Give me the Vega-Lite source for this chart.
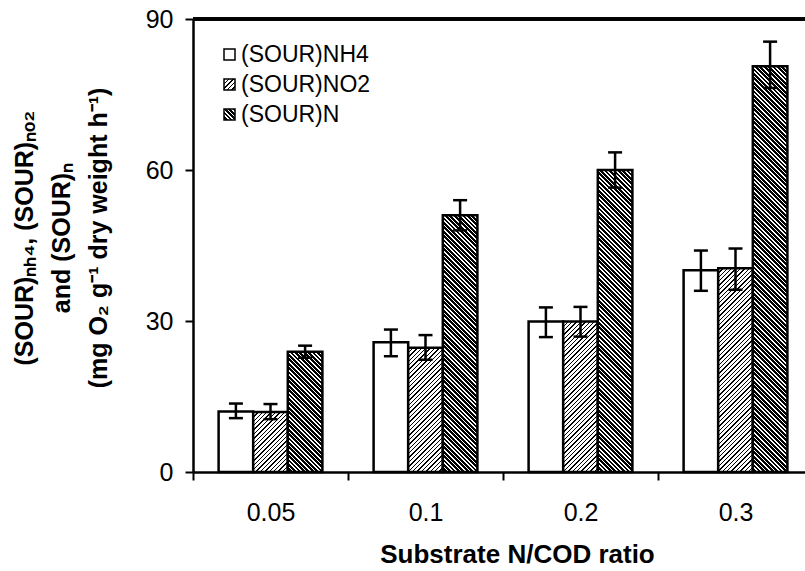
{
  "$schema": "https://vega.github.io/schema/vega-lite/v6.json",
  "autosize": {"type": "none"},
  "padding": {"left": 193, "top": 19, "right": 0, "bottom": 99},
  "width": 620,
  "height": 453,
  "background": "white",
  "config": {
    "font": "Liberation Sans",
    "view": {"stroke": null},
    "axis": {"domainColor": "black", "tickColor": "black", "labelColor": "black", "titleColor": "black", "grid": false}
  },
  "params": [
    {"name": "cb", "value": "#000000"},
    {"name": "cw", "value": "#ffffff"},
    {"name": "pA", "expr": "[{offset:0,color:cb},{offset:.0032,color:cb},{offset:.0032,color:cw},{offset:.01,color:cw},{offset:.01,color:cb},{offset:.0132,color:cb},{offset:.0132,color:cw},{offset:.02,color:cw},{offset:.02,color:cb},{offset:.0232,color:cb},{offset:.0232,color:cw},{offset:.03,color:cw},{offset:.03,color:cb},{offset:.0332,color:cb},{offset:.0332,color:cw},{offset:.04,color:cw},{offset:.04,color:cb},{offset:.0432,color:cb},{offset:.0432,color:cw},{offset:.05,color:cw},{offset:.05,color:cb},{offset:.0532,color:cb},{offset:.0532,color:cw},{offset:.06,color:cw},{offset:.06,color:cb},{offset:.0632,color:cb},{offset:.0632,color:cw},{offset:.07,color:cw},{offset:.07,color:cb},{offset:.0732,color:cb},{offset:.0732,color:cw},{offset:.08,color:cw},{offset:.08,color:cb},{offset:.0832,color:cb},{offset:.0832,color:cw},{offset:.09,color:cw},{offset:.09,color:cb},{offset:.0932,color:cb},{offset:.0932,color:cw},{offset:.1,color:cw},{offset:.1,color:cb},{offset:.1032,color:cb},{offset:.1032,color:cw},{offset:.11,color:cw},{offset:.11,color:cb},{offset:.1132,color:cb},{offset:.1132,color:cw},{offset:.12,color:cw},{offset:.12,color:cb},{offset:.1232,color:cb},{offset:.1232,color:cw},{offset:.13,color:cw},{offset:.13,color:cb},{offset:.1332,color:cb},{offset:.1332,color:cw},{offset:.14,color:cw},{offset:.14,color:cb},{offset:.1432,color:cb},{offset:.1432,color:cw},{offset:.15,color:cw},{offset:.15,color:cb},{offset:.1532,color:cb},{offset:.1532,color:cw},{offset:.16,color:cw},{offset:.16,color:cb},{offset:.1632,color:cb},{offset:.1632,color:cw},{offset:.17,color:cw},{offset:.17,color:cb},{offset:.1732,color:cb},{offset:.1732,color:cw},{offset:.18,color:cw},{offset:.18,color:cb},{offset:.1832,color:cb},{offset:.1832,color:cw},{offset:.19,color:cw},{offset:.19,color:cb},{offset:.1932,color:cb},{offset:.1932,color:cw},{offset:.2,color:cw},{offset:.2,color:cb},{offset:.2032,color:cb},{offset:.2032,color:cw},{offset:.21,color:cw},{offset:.21,color:cb},{offset:.2132,color:cb},{offset:.2132,color:cw},{offset:.22,color:cw},{offset:.22,color:cb},{offset:.2232,color:cb},{offset:.2232,color:cw},{offset:.23,color:cw},{offset:.23,color:cb},{offset:.2332,color:cb},{offset:.2332,color:cw},{offset:.24,color:cw},{offset:.24,color:cb},{offset:.2432,color:cb},{offset:.2432,color:cw},{offset:.25,color:cw},{offset:.25,color:cb},{offset:.2532,color:cb},{offset:.2532,color:cw},{offset:.26,color:cw},{offset:.26,color:cb},{offset:.2632,color:cb},{offset:.2632,color:cw},{offset:.27,color:cw},{offset:.27,color:cb},{offset:.2732,color:cb},{offset:.2732,color:cw},{offset:.28,color:cw},{offset:.28,color:cb},{offset:.2832,color:cb},{offset:.2832,color:cw},{offset:.29,color:cw},{offset:.29,color:cb},{offset:.2932,color:cb},{offset:.2932,color:cw},{offset:.3,color:cw},{offset:.3,color:cb},{offset:.3032,color:cb},{offset:.3032,color:cw},{offset:.31,color:cw},{offset:.31,color:cb},{offset:.3132,color:cb},{offset:.3132,color:cw},{offset:.32,color:cw},{offset:.32,color:cb},{offset:.3232,color:cb},{offset:.3232,color:cw},{offset:.33,color:cw},{offset:.33,color:cb},{offset:.3332,color:cb},{offset:.3332,color:cw},{offset:.34,color:cw},{offset:.34,color:cb},{offset:.3432,color:cb},{offset:.3432,color:cw},{offset:.35,color:cw},{offset:.35,color:cb},{offset:.3532,color:cb},{offset:.3532,color:cw},{offset:.36,color:cw},{offset:.36,color:cb},{offset:.3632,color:cb},{offset:.3632,color:cw},{offset:.37,color:cw},{offset:.37,color:cb},{offset:.3732,color:cb},{offset:.3732,color:cw},{offset:.38,color:cw},{offset:.38,color:cb},{offset:.3832,color:cb},{offset:.3832,color:cw},{offset:.39,color:cw},{offset:.39,color:cb},{offset:.3932,color:cb},{offset:.3932,color:cw},{offset:.4,color:cw},{offset:.4,color:cb},{offset:.4032,color:cb},{offset:.4032,color:cw},{offset:.41,color:cw},{offset:.41,color:cb},{offset:.4132,color:cb},{offset:.4132,color:cw},{offset:.42,color:cw},{offset:.42,color:cb},{offset:.4232,color:cb},{offset:.4232,color:cw},{offset:.43,color:cw},{offset:.43,color:cb},{offset:.4332,color:cb},{offset:.4332,color:cw},{offset:.44,color:cw},{offset:.44,color:cb},{offset:.4432,color:cb},{offset:.4432,color:cw},{offset:.45,color:cw},{offset:.45,color:cb},{offset:.4532,color:cb},{offset:.4532,color:cw},{offset:.46,color:cw},{offset:.46,color:cb},{offset:.4632,color:cb},{offset:.4632,color:cw},{offset:.47,color:cw},{offset:.47,color:cb},{offset:.4732,color:cb},{offset:.4732,color:cw},{offset:.48,color:cw},{offset:.48,color:cb},{offset:.4832,color:cb},{offset:.4832,color:cw},{offset:.49,color:cw},{offset:.49,color:cb},{offset:.4932,color:cb},{offset:.4932,color:cw},{offset:.5,color:cw},{offset:.5,color:cb},{offset:.5032,color:cb},{offset:.5032,color:cw},{offset:.51,color:cw},{offset:.51,color:cb},{offset:.5132,color:cb},{offset:.5132,color:cw},{offset:.52,color:cw},{offset:.52,color:cb},{offset:.5232,color:cb},{offset:.5232,color:cw},{offset:.53,color:cw},{offset:.53,color:cb},{offset:.5332,color:cb},{offset:.5332,color:cw},{offset:.54,color:cw},{offset:.54,color:cb},{offset:.5432,color:cb},{offset:.5432,color:cw},{offset:.55,color:cw},{offset:1,color:cw}]"},
    {"name": "pB", "expr": "[{offset:0,color:cb},{offset:.0063,color:cb},{offset:.0063,color:cw},{offset:.01,color:cw},{offset:.01,color:cb},{offset:.0163,color:cb},{offset:.0163,color:cw},{offset:.02,color:cw},{offset:.02,color:cb},{offset:.0263,color:cb},{offset:.0263,color:cw},{offset:.03,color:cw},{offset:.03,color:cb},{offset:.0363,color:cb},{offset:.0363,color:cw},{offset:.04,color:cw},{offset:.04,color:cb},{offset:.0463,color:cb},{offset:.0463,color:cw},{offset:.05,color:cw},{offset:.05,color:cb},{offset:.0563,color:cb},{offset:.0563,color:cw},{offset:.06,color:cw},{offset:.06,color:cb},{offset:.0663,color:cb},{offset:.0663,color:cw},{offset:.07,color:cw},{offset:.07,color:cb},{offset:.0763,color:cb},{offset:.0763,color:cw},{offset:.08,color:cw},{offset:.08,color:cb},{offset:.0863,color:cb},{offset:.0863,color:cw},{offset:.09,color:cw},{offset:.09,color:cb},{offset:.0963,color:cb},{offset:.0963,color:cw},{offset:.1,color:cw},{offset:.1,color:cb},{offset:.1063,color:cb},{offset:.1063,color:cw},{offset:.11,color:cw},{offset:.11,color:cb},{offset:.1163,color:cb},{offset:.1163,color:cw},{offset:.12,color:cw},{offset:.12,color:cb},{offset:.1263,color:cb},{offset:.1263,color:cw},{offset:.13,color:cw},{offset:.13,color:cb},{offset:.1363,color:cb},{offset:.1363,color:cw},{offset:.14,color:cw},{offset:.14,color:cb},{offset:.1463,color:cb},{offset:.1463,color:cw},{offset:.15,color:cw},{offset:.15,color:cb},{offset:.1563,color:cb},{offset:.1563,color:cw},{offset:.16,color:cw},{offset:.16,color:cb},{offset:.1663,color:cb},{offset:.1663,color:cw},{offset:.17,color:cw},{offset:.17,color:cb},{offset:.1763,color:cb},{offset:.1763,color:cw},{offset:.18,color:cw},{offset:.18,color:cb},{offset:.1863,color:cb},{offset:.1863,color:cw},{offset:.19,color:cw},{offset:.19,color:cb},{offset:.1963,color:cb},{offset:.1963,color:cw},{offset:.2,color:cw},{offset:.2,color:cb},{offset:.2063,color:cb},{offset:.2063,color:cw},{offset:.21,color:cw},{offset:.21,color:cb},{offset:.2163,color:cb},{offset:.2163,color:cw},{offset:.22,color:cw},{offset:.22,color:cb},{offset:.2263,color:cb},{offset:.2263,color:cw},{offset:.23,color:cw},{offset:.23,color:cb},{offset:.2363,color:cb},{offset:.2363,color:cw},{offset:.24,color:cw},{offset:.24,color:cb},{offset:.2463,color:cb},{offset:.2463,color:cw},{offset:.25,color:cw},{offset:.25,color:cb},{offset:.2563,color:cb},{offset:.2563,color:cw},{offset:.26,color:cw},{offset:.26,color:cb},{offset:.2663,color:cb},{offset:.2663,color:cw},{offset:.27,color:cw},{offset:.27,color:cb},{offset:.2763,color:cb},{offset:.2763,color:cw},{offset:.28,color:cw},{offset:.28,color:cb},{offset:.2863,color:cb},{offset:.2863,color:cw},{offset:.29,color:cw},{offset:.29,color:cb},{offset:.2963,color:cb},{offset:.2963,color:cw},{offset:.3,color:cw},{offset:.3,color:cb},{offset:.3063,color:cb},{offset:.3063,color:cw},{offset:.31,color:cw},{offset:.31,color:cb},{offset:.3163,color:cb},{offset:.3163,color:cw},{offset:.32,color:cw},{offset:.32,color:cb},{offset:.3263,color:cb},{offset:.3263,color:cw},{offset:.33,color:cw},{offset:.33,color:cb},{offset:.3363,color:cb},{offset:.3363,color:cw},{offset:.34,color:cw},{offset:.34,color:cb},{offset:.3463,color:cb},{offset:.3463,color:cw},{offset:.35,color:cw},{offset:.35,color:cb},{offset:.3563,color:cb},{offset:.3563,color:cw},{offset:.36,color:cw},{offset:.36,color:cb},{offset:.3663,color:cb},{offset:.3663,color:cw},{offset:.37,color:cw},{offset:.37,color:cb},{offset:.3763,color:cb},{offset:.3763,color:cw},{offset:.38,color:cw},{offset:.38,color:cb},{offset:.3863,color:cb},{offset:.3863,color:cw},{offset:.39,color:cw},{offset:.39,color:cb},{offset:.3963,color:cb},{offset:.3963,color:cw},{offset:.4,color:cw},{offset:.4,color:cb},{offset:.4063,color:cb},{offset:.4063,color:cw},{offset:.41,color:cw},{offset:.41,color:cb},{offset:.4163,color:cb},{offset:.4163,color:cw},{offset:.42,color:cw},{offset:.42,color:cb},{offset:.4263,color:cb},{offset:.4263,color:cw},{offset:.43,color:cw},{offset:.43,color:cb},{offset:.4363,color:cb},{offset:.4363,color:cw},{offset:.44,color:cw},{offset:.44,color:cb},{offset:.4463,color:cb},{offset:.4463,color:cw},{offset:.45,color:cw},{offset:.45,color:cb},{offset:.4563,color:cb},{offset:.4563,color:cw},{offset:.46,color:cw},{offset:.46,color:cb},{offset:.4663,color:cb},{offset:.4663,color:cw},{offset:.47,color:cw},{offset:.47,color:cb},{offset:.4763,color:cb},{offset:.4763,color:cw},{offset:.48,color:cw},{offset:.48,color:cb},{offset:.4863,color:cb},{offset:.4863,color:cw},{offset:.49,color:cw},{offset:.49,color:cb},{offset:.4963,color:cb},{offset:.4963,color:cw},{offset:.5,color:cw},{offset:.5,color:cb},{offset:.5063,color:cb},{offset:.5063,color:cw},{offset:.51,color:cw},{offset:.51,color:cb},{offset:.5163,color:cb},{offset:.5163,color:cw},{offset:.52,color:cw},{offset:.52,color:cb},{offset:.5263,color:cb},{offset:.5263,color:cw},{offset:.53,color:cw},{offset:.53,color:cb},{offset:.5363,color:cb},{offset:.5363,color:cw},{offset:.54,color:cw},{offset:.54,color:cb},{offset:.5463,color:cb},{offset:.5463,color:cw},{offset:.55,color:cw},{offset:.55,color:cb},{offset:.5563,color:cb},{offset:.5563,color:cw},{offset:.56,color:cw},{offset:.56,color:cb},{offset:.5663,color:cb},{offset:.5663,color:cw},{offset:.57,color:cw},{offset:.57,color:cb},{offset:.5763,color:cb},{offset:.5763,color:cw},{offset:.58,color:cw},{offset:.58,color:cb},{offset:.5863,color:cb},{offset:.5863,color:cw},{offset:.59,color:cw},{offset:.59,color:cb},{offset:.5963,color:cb},{offset:.5963,color:cw},{offset:.6,color:cw},{offset:.6,color:cb},{offset:.6063,color:cb},{offset:.6063,color:cw},{offset:.61,color:cw},{offset:.61,color:cb},{offset:.6163,color:cb},{offset:.6163,color:cw},{offset:.62,color:cw},{offset:.62,color:cb},{offset:.6263,color:cb},{offset:.6263,color:cw},{offset:.63,color:cw},{offset:.63,color:cb},{offset:.6363,color:cb},{offset:.6363,color:cw},{offset:.64,color:cw},{offset:.64,color:cb},{offset:.6463,color:cb},{offset:.6463,color:cw},{offset:.65,color:cw},{offset:.65,color:cb},{offset:.6563,color:cb},{offset:.6563,color:cw},{offset:.66,color:cw},{offset:.66,color:cb},{offset:.6663,color:cb},{offset:.6663,color:cw},{offset:.67,color:cw},{offset:.67,color:cb},{offset:.6763,color:cb},{offset:.6763,color:cw},{offset:.68,color:cw},{offset:.68,color:cb},{offset:.6863,color:cb},{offset:.6863,color:cw},{offset:.69,color:cw},{offset:.69,color:cb},{offset:.6963,color:cb},{offset:.6963,color:cw},{offset:.7,color:cw},{offset:.7,color:cb},{offset:.7063,color:cb},{offset:.7063,color:cw},{offset:.71,color:cw},{offset:.71,color:cb},{offset:.7163,color:cb},{offset:.7163,color:cw},{offset:.72,color:cw},{offset:.72,color:cb},{offset:.7263,color:cb},{offset:.7263,color:cw},{offset:.73,color:cw},{offset:.73,color:cb},{offset:.7363,color:cb},{offset:.7363,color:cw},{offset:.74,color:cw},{offset:.74,color:cb},{offset:.7463,color:cb},{offset:.7463,color:cw},{offset:.75,color:cw},{offset:.75,color:cb},{offset:.7563,color:cb},{offset:.7563,color:cw},{offset:.76,color:cw},{offset:.76,color:cb},{offset:.7663,color:cb},{offset:.7663,color:cw},{offset:.77,color:cw},{offset:.77,color:cb},{offset:.7763,color:cb},{offset:.7763,color:cw},{offset:.78,color:cw},{offset:.78,color:cb},{offset:.7863,color:cb},{offset:.7863,color:cw},{offset:.79,color:cw},{offset:.79,color:cb},{offset:.7963,color:cb},{offset:.7963,color:cw},{offset:.8,color:cw},{offset:.8,color:cb},{offset:.8063,color:cb},{offset:.8063,color:cw},{offset:.81,color:cw},{offset:.81,color:cb},{offset:.8163,color:cb},{offset:.8163,color:cw},{offset:.82,color:cw},{offset:.82,color:cb},{offset:.8263,color:cb},{offset:.8263,color:cw},{offset:.83,color:cw},{offset:.83,color:cb},{offset:.8363,color:cb},{offset:.8363,color:cw},{offset:.84,color:cw},{offset:.84,color:cb},{offset:.8463,color:cb},{offset:.8463,color:cw},{offset:.85,color:cw},{offset:.85,color:cb},{offset:.8563,color:cb},{offset:.8563,color:cw},{offset:.86,color:cw},{offset:.86,color:cb},{offset:.8663,color:cb},{offset:.8663,color:cw},{offset:.87,color:cw},{offset:.87,color:cb},{offset:.8763,color:cb},{offset:.8763,color:cw},{offset:.88,color:cw},{offset:.88,color:cb},{offset:.8863,color:cb},{offset:.8863,color:cw},{offset:.89,color:cw},{offset:.89,color:cb},{offset:.8963,color:cb},{offset:.8963,color:cw},{offset:.9,color:cw},{offset:.9,color:cb},{offset:.9063,color:cb},{offset:.9063,color:cw},{offset:.91,color:cw},{offset:.91,color:cb},{offset:.9163,color:cb},{offset:.9163,color:cw},{offset:.92,color:cw},{offset:.92,color:cb},{offset:.9263,color:cb},{offset:.9263,color:cw},{offset:.93,color:cw},{offset:.93,color:cb},{offset:.9363,color:cb},{offset:.9363,color:cw},{offset:.94,color:cw},{offset:.94,color:cb},{offset:.9463,color:cb},{offset:.9463,color:cw},{offset:.95,color:cw},{offset:.95,color:cb},{offset:.9563,color:cb},{offset:.9563,color:cw},{offset:.96,color:cw},{offset:.96,color:cb},{offset:.9663,color:cb},{offset:.9663,color:cw},{offset:.97,color:cw},{offset:.97,color:cb},{offset:.9763,color:cb},{offset:.9763,color:cw},{offset:.98,color:cw},{offset:.98,color:cb},{offset:.9863,color:cb},{offset:.9863,color:cw},{offset:.99,color:cw},{offset:.99,color:cb},{offset:.9963,color:cb},{offset:.9963,color:cw},{offset:1,color:cw}]"},
    {"name": "lA", "expr": "{gradient: 'linear', x1: 0, y1: 0, x2: 1, y2: 1, stops: [{offset:0,color:cb},{offset:.064,color:cb},{offset:.064,color:cw},{offset:.2,color:cw},{offset:.2,color:cb},{offset:.264,color:cb},{offset:.264,color:cw},{offset:.4,color:cw},{offset:.4,color:cb},{offset:.464,color:cb},{offset:.464,color:cw},{offset:.6,color:cw},{offset:.6,color:cb},{offset:.664,color:cb},{offset:.664,color:cw},{offset:.8,color:cw},{offset:.8,color:cb},{offset:.864,color:cb},{offset:.864,color:cw},{offset:1,color:cw}]}"},
    {"name": "lB", "expr": "{gradient: 'linear', x1: 1, y1: 0, x2: 0, y2: 1, stops: [{offset:0,color:cb},{offset:.126,color:cb},{offset:.126,color:cw},{offset:.2,color:cw},{offset:.2,color:cb},{offset:.326,color:cb},{offset:.326,color:cw},{offset:.4,color:cw},{offset:.4,color:cb},{offset:.526,color:cb},{offset:.526,color:cw},{offset:.6,color:cw},{offset:.6,color:cb},{offset:.726,color:cb},{offset:.726,color:cw},{offset:.8,color:cw},{offset:.8,color:cb},{offset:.926,color:cb},{offset:.926,color:cw},{offset:1,color:cw}]}"}
  ],
  "data": {"values": [
    {"r": "0.05", "s": "(SOUR)NH4", "v": 12.0, "lo": 10.7, "hi": 13.6},
    {"r": "0.05", "s": "(SOUR)NO2", "v": 11.9, "lo": 10.5, "hi": 13.5},
    {"r": "0.05", "s": "(SOUR)N", "v": 23.9, "lo": 22.7, "hi": 25.1},
    {"r": "0.1", "s": "(SOUR)NH4", "v": 25.8, "lo": 23.0, "hi": 28.3},
    {"r": "0.1", "s": "(SOUR)NO2", "v": 24.7, "lo": 22.3, "hi": 27.2},
    {"r": "0.1", "s": "(SOUR)N", "v": 51.0, "lo": 48.0, "hi": 54.0},
    {"r": "0.2", "s": "(SOUR)NH4", "v": 29.9, "lo": 26.8, "hi": 32.7},
    {"r": "0.2", "s": "(SOUR)NO2", "v": 29.9, "lo": 26.9, "hi": 32.8},
    {"r": "0.2", "s": "(SOUR)N", "v": 60.0, "lo": 56.5, "hi": 63.5},
    {"r": "0.3", "s": "(SOUR)NH4", "v": 40.1, "lo": 36.0, "hi": 44.0},
    {"r": "0.3", "s": "(SOUR)NO2", "v": 40.5, "lo": 36.2, "hi": 44.4},
    {"r": "0.3", "s": "(SOUR)N", "v": 80.6, "lo": 76.3, "hi": 85.5}
  ]},
  "layer": [
    {
      "encoding": {
        "x": {"field": "r", "type": "nominal", "sort": ["0.05", "0.1", "0.2", "0.3"],
          "scale": {"paddingInner": 0, "paddingOuter": 0},
          "axis": {"title": "Substrate N/COD ratio", "labelAngle": 0, "tickBand": "extent", "domainWidth": 2.5, "tickWidth": 2, "tickSize": 8,
            "labelFontSize": 25, "labelPadding": 20, "titleFontSize": 26, "titleFontWeight": "bold",
            "titleX": 324, "titleY": 90, "titleBaseline": "alphabetic", "titleAlign": "center"}},
        "xOffset": {"field": "s", "type": "nominal", "sort": ["(SOUR)NH4", "(SOUR)NO2", "(SOUR)N"],
          "scale": {"paddingInner": 0, "paddingOuter": 0.74}}
      },
      "layer": [
        {
          "mark": {"type": "bar", "stroke": null},
          "encoding": {
            "y": {"field": "v", "type": "quantitative", "scale": {"domain": [0, 90], "nice": false},
              "axis": {"values": [0, 30, 60, 90], "domainWidth": 2.5, "tickWidth": 2, "tickSize": 8, "labelFontSize": 25, "labelPadding": 12,
                "title": ["(SOUR)ₙₕ₄, (SOUR)ₙₒ₂", "and (SOUR)ₙ", "(mg O₂ g⁻¹ dry weight h⁻¹)"],
                "titleFontSize": 25, "titleFontWeight": "bold", "titleLineHeight": 37, "titleAngle": 270,
                "titleX": -156, "titleY": 218.5, "titleAlign": "center", "titleBaseline": "bottom"}},
            "fill": {"field": "s", "type": "nominal",
              "scale": {"domain": ["(SOUR)NH4", "(SOUR)NO2", "(SOUR)N"],
                "range": ["#ffffff", {"expr": "lA"}, {"expr": "lB"}]},
              "legend": {"title": null, "orient": "none", "legendX": 25, "legendY": 24, "symbolType": "square", "symbolSize": 121,
                "symbolStrokeColor": "black", "symbolStrokeWidth": 1.5, "labelFontSize": 23, "labelColor": "black", "labelOffset": 0,
                "rowPadding": 6, "padding": 0}}
          }
        },
        {
          "mark": {"type": "bar", "stroke": "black", "strokeWidth": 2.5,
            "fill": {"expr": "datum.s === '(SOUR)NO2' ? {gradient: 'linear', x1: 0, y1: 0, x2: 15224 / (1197.16 + pow(scale('y', 0) - scale('y', datum.v), 2)), y2: 440 * (scale('y', 0) - scale('y', datum.v)) / (1197.16 + pow(scale('y', 0) - scale('y', datum.v), 2)), stops: pA} : datum.s === '(SOUR)N' ? {gradient: 'linear', x1: 1, y1: 0, x2: 1 - 15224 / (1197.16 + pow(scale('y', 0) - scale('y', datum.v), 2)), y2: 440 * (scale('y', 0) - scale('y', datum.v)) / (1197.16 + pow(scale('y', 0) - scale('y', datum.v), 2)), stops: pB} : '#ffffff'"}},
          "encoding": {"y": {"field": "v", "type": "quantitative"}}
        },
        {
          "mark": {"type": "rule", "color": "black", "strokeWidth": 2.5},
          "encoding": {"y": {"field": "lo", "type": "quantitative"}, "y2": {"field": "hi"}}
        },
        {
          "mark": {"type": "tick", "color": "black", "thickness": 2.5, "size": 14, "opacity": 1},
          "encoding": {"y": {"field": "lo", "type": "quantitative"}}
        },
        {
          "mark": {"type": "tick", "color": "black", "thickness": 2.5, "size": 14, "opacity": 1},
          "encoding": {"y": {"field": "hi", "type": "quantitative"}}
        }
      ]
    },
    {
      "mark": {"type": "rule", "color": "black", "strokeWidth": 2.5},
      "encoding": {"y": {"datum": 90, "type": "quantitative"}}
    }
  ]
}
